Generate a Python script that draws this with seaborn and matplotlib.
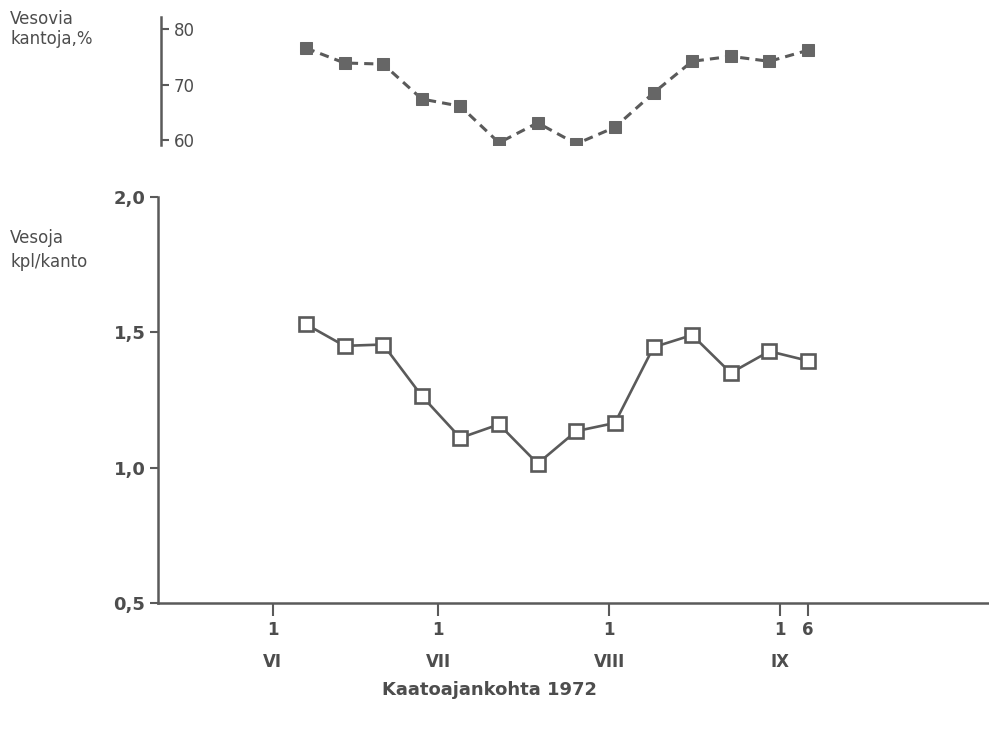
import matplotlib
matplotlib.use("Agg")
import matplotlib.pyplot as plt
import seaborn as sns
import pandas as pd

# ---- data ----
# days counted from 1 June 1972 (weekly fellings, 7 June ... 6 Sept)
felling_day = [6, 13, 20, 27, 34, 41, 48, 55, 62, 69, 76, 83, 90, 97]
sprouting_pct = [76.6, 73.9, 73.7, 67.4, 66.1, 59.5, 63.1, 59.3, 62.3, 68.5, 74.2, 75.1, 74.2, 76.2]
sprouts_per_stump = [1.53, 1.45, 1.455, 1.265, 1.11, 1.16, 1.015, 1.135, 1.165, 1.445, 1.49, 1.35, 1.43, 1.395]

x_tick_pos = [0, 30, 61, 92, 97]
x_tick_labels = ["1\nVI", "1\nVII", "1\nVIII", "1\nIX", "6"]
low_ticks = [0.5, 1.0, 1.5, 2.0]
low_tick_labels = ["0,5", "1,0", "1,5", "2,0"]
top_ticks = [60, 70, 80]
top_tick_labels = ["60", "70", "80"]

df = pd.DataFrame({"day": felling_day, "pct": sprouting_pct, "n": sprouts_per_stump})

sns.set_style("ticks")
plt.rcParams["font.family"] = ["DejaVu Sans"]

INK = "#4d4d4d"
LINE = "#5a5a5a"

W, H = 989, 731
fig = plt.figure(figsize=(W / 100, H / 100), dpi=100)
fig.patch.set_facecolor("white")

XLIM = (-20.8, 129.8)

def fa(x0, y0, x1, y1):
    return [x0 / W, 1 - y1 / H, (x1 - x0) / W, (y1 - y0) / H]

# ---- lower panel ----
ax = fig.add_axes(fa(158, 197, 989, 603))
sns.lineplot(data=df, x="day", y="n", ax=ax, color=LINE, linewidth=1.9,
             marker="s", markersize=10, markerfacecolor="white",
             markeredgecolor=LINE, markeredgewidth=1.9)
ax.set_xlim(*XLIM)
ax.set_ylim(0.5, 2.0)
for s in ["top", "right"]:
    ax.spines[s].set_visible(False)
for s in ["left", "bottom"]:
    ax.spines[s].set_color(LINE)
    ax.spines[s].set_linewidth(1.8)
ax.set_yticks(low_ticks)
ax.set_yticklabels(low_tick_labels, fontsize=13, fontweight="bold", color=INK)
ax.set_xticks(x_tick_pos)
ax.set_xticklabels(x_tick_labels, fontsize=12, fontweight="bold", color=INK, linespacing=2.0)
ax.tick_params(axis="y", direction="out", length=6, width=1.5, color=LINE, pad=3)
ax.tick_params(axis="x", direction="out", length=9, width=1.5, color=LINE, pad=4)
ax.set_xlabel("")
ax.set_ylabel("")
ax.set_facecolor("none")

# ---- upper panel ----
ax2 = fig.add_axes(fa(158, 17, 989, 145))
sns.lineplot(data=df, x="day", y="pct", ax=ax2, color=LINE, linewidth=2.2,
             linestyle=(0, (3.0, 2.0)), marker="s", markersize=8,
             markerfacecolor="#666666", markeredgecolor="#666666")
ax2.set_xlim(*XLIM)
ax2.set_ylim(59.1, 82.2)
for s in ["top", "left", "bottom"]:
    ax2.spines[s].set_visible(False)
ax2.spines["right"].set_position(("axes", 0.004))
ax2.spines["right"].set_color(LINE)
ax2.spines["right"].set_linewidth(1.8)
ax2.yaxis.tick_right()
ax2.set_yticks(top_ticks)
ax2.set_yticklabels(top_tick_labels, fontsize=12, color=INK)
ax2.tick_params(axis="y", direction="out", length=6, width=1.5, color=LINE, pad=3)
ax2.set_xticks([])
ax2.set_xlabel("")
ax2.set_ylabel("")
ax2.set_facecolor("none")

# ---- texts ----
fig.text(10 / W, 1 - 10 / H, "Vesovia\nkantoja,%", ha="left", va="top",
         fontsize=12, color=INK, linespacing=1.15)
fig.text(10 / W, 1 - 229 / H, "Vesoja\nkpl/kanto", ha="left", va="top",
         fontsize=12, color=INK, linespacing=1.45)
fig.text(490 / W, 1 - 690 / H, "Kaatoajankohta 1972", ha="center", va="center",
         fontsize=13, fontweight="bold", color=INK)

fig.savefig("out.png", dpi=100, facecolor="white")
